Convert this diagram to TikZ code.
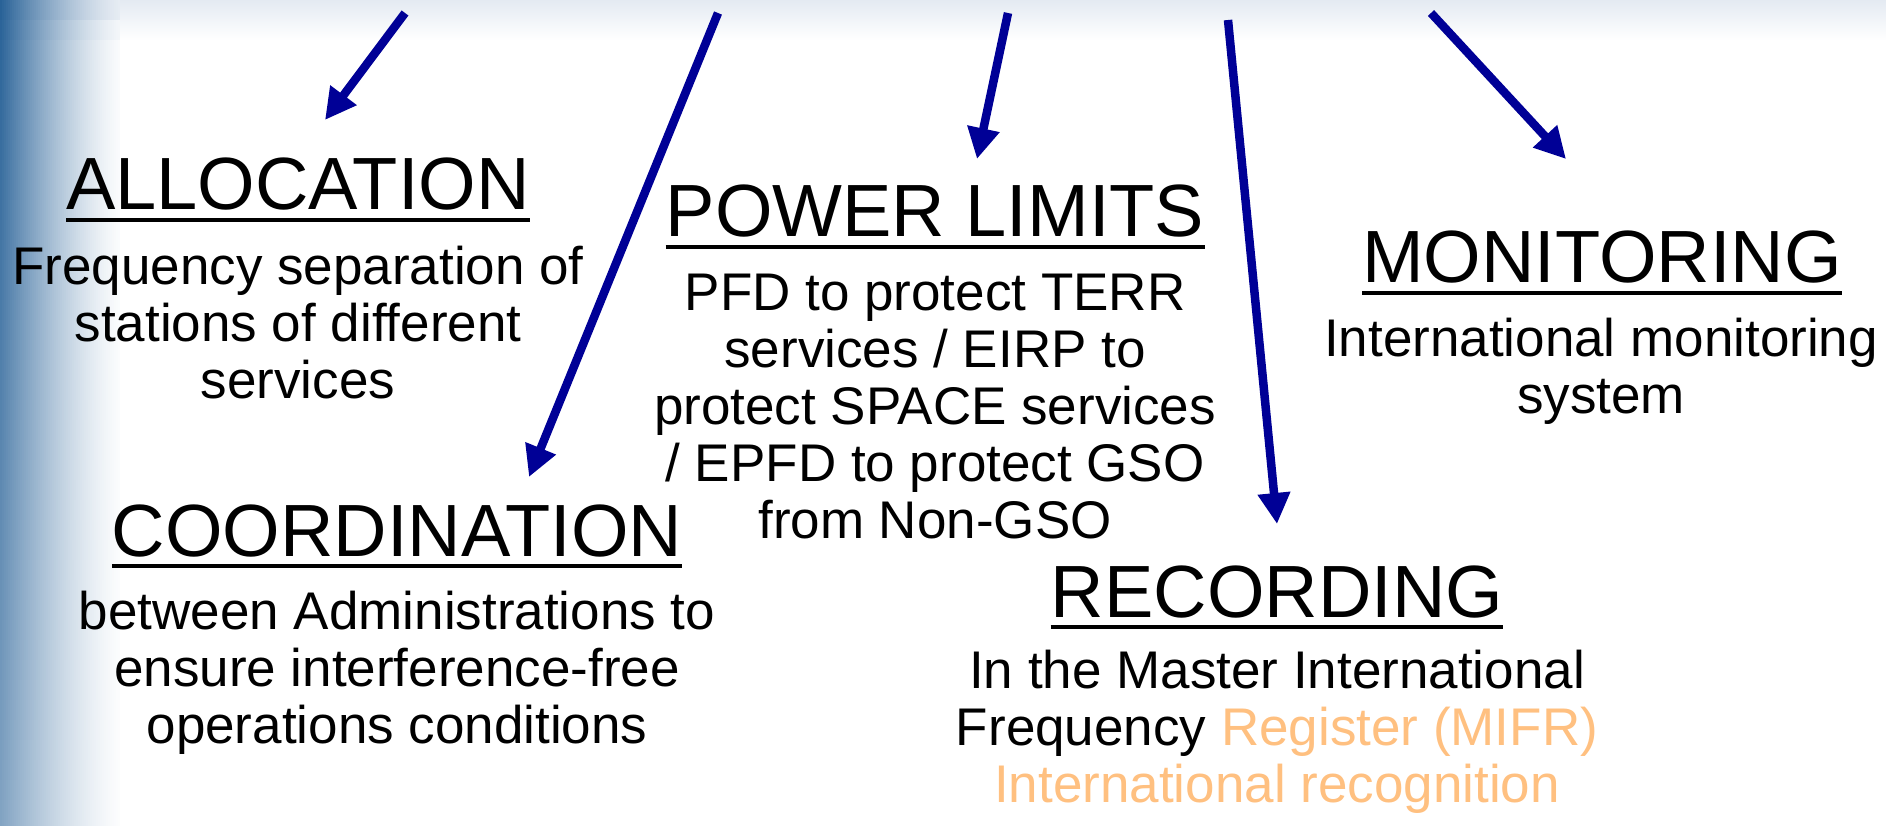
\documentclass[tikz,border=0pt]{standalone}
\usepackage{fontspec}
\setmainfont{Liberation Sans}
\usetikzlibrary{arrows.meta}
\definecolor{arrowblue}{RGB}{0,0,150}
\definecolor{lightorange}{RGB}{255,192,128}
\definecolor{edgeblue}{RGB}{38,96,150}
\definecolor{topgray}{RGB}{228,234,242}
\tikzset{
  head/.style={font=\fontsize{74}{80}\selectfont, inner sep=0pt, anchor=base},
  body/.style={font=\fontsize{53}{57}\selectfont, align=center, inner sep=0pt, anchor=base},
  uline/.style={line width=4.5pt, black},
  pointer/.style={draw=arrowblue, line width=8.5pt, -{Triangle[length=31pt,width=31pt]}, arrowblue}
}
\begin{document}
\begin{tikzpicture}[x=1pt,y=-1pt]
\useasboundingbox (0,0) rectangle (1886,826);
\fill[white] (0,0) rectangle (1886,826);
\shade[top color=topgray, bottom color=white] (0,0) rectangle (1886,40);
% left edge gradient, drawn as small cells
\foreach \j in {0,...,41}{
  \pgfmathsetmacro\ya{20*\j}
  \pgfmathsetmacro\b{max(0,100*(1-(20*\j+10)/40))}
  \colorlet{rowbase}{topgray!\b!white}
  \foreach \i in {0,...,59}{
    \pgfmathsetmacro\xa{2*\i}
    \pgfmathsetmacro\p{100*(1-(2*\i+1)/130)^1.5*(1-0.42*(20*\j+10)/826)}
    \fill[edgeblue!\p!rowbase] (\xa,\ya) rectangle ({\xa+2.3},{\ya+20.5});
  }
}

% headings
\node[head] (alloc) at (298,210) {ALLOCATION};
\node[head] (coord) at (397,556) {COORDINATION};
\node[head] (power) at (935,237) {POWER LIMITS};
\node[head] (monit) at (1602,283) {MONITORING};
\node[head] (recor) at (1277,617) {RECORDING};
\foreach \n in {alloc,coord,power,monit,recor}{
  \draw[uline] ([yshift=-10pt]\n.base west) -- ([yshift=-10pt]\n.base east);
}

% bodies (anchor base = baseline of last line)
\node[body] (allocb) at (298,398) {Frequency separation of\\stations of different\\services};
\node[body] (coordb) at (397,743) {between Administrations to\\ensure interference-free\\operations conditions};
\node[body] (powerb) at (935,538) {PFD to protect TERR\\services / EIRP to\\protect SPACE services\\/ EPFD to protect GSO\\from Non-GSO};
\node[body] (monitb) at (1601,413) {International monitoring\\system};
\node[body] (recorb) at (1277,802) {In the Master International\\Frequency \textcolor{lightorange}{Register (MIFR)}\\\textcolor{lightorange}{International recognition}};

% arrows
\coordinate (t1) at (405,13);  \coordinate (h1) at (325,120);
\coordinate (t2) at (718,13);  \coordinate (h2) at (529,477);
\coordinate (t3) at (1008,13); \coordinate (h3) at (977,159);
\coordinate (t4) at (1228,20); \coordinate (h4) at (1277,524);
\coordinate (t5) at (1431,13); \coordinate (h5) at (1566,159);
\draw[pointer] (t1) -- (h1);
\draw[pointer] (t2) -- (h2);
\draw[pointer] (t3) -- (h3);
\draw[pointer] (t4) -- (h4);
\draw[pointer] (t5) -- (h5);
\end{tikzpicture}
\end{document}
